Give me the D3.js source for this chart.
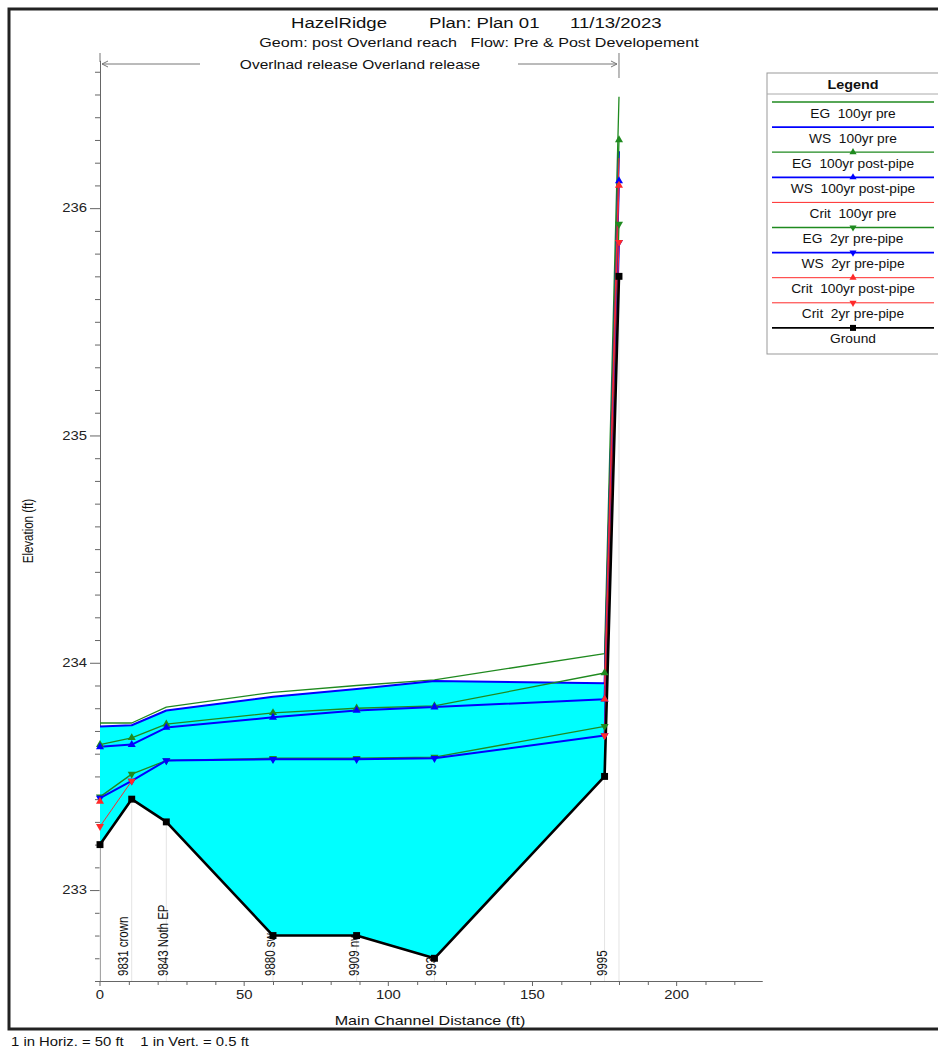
<!DOCTYPE html>
<html>
<head>
<meta charset="utf-8">
<script src="https://cdn.jsdelivr.net/npm/d3@7"></script>
<style>
  body { margin: 0; background: #fff; }
  svg { display: block; font-family: Arial, "Liberation Sans", sans-serif; }
</style>
</head>
<body>
<div id="chart"></div>
<script>
// main channel distance of each cross section (ft)
const stations = [0, 11, 23, 60, 89, 116, 175, 180];
const stationLabels = ['', '9831 crown', '9843 Noth EP', '9880 sw', '9909 nw', '9938 ne', '9995', ''];

// profiles (ft), null where not computed
const egPre100    = [233.735, 233.735, 233.805, 233.87, 233.90, 233.925, 234.04, 236.49];
const wsPre100    = [233.72, 233.725, 233.79, 233.85, 233.885, 233.92, 233.91, 236.25];
const egPost100   = [233.64, 233.67, 233.73, 233.78, 233.80, 233.81, 233.955, 236.30];
const wsPost100   = [233.63, 233.64, 233.715, 233.76, 233.79, 233.805, 233.84, 236.12];
const critPre100  = [null, null, null, null, null, null, 233.90, 236.22];
const egPre2      = [233.41, 233.51, 233.57, 233.58, 233.58, 233.585, 233.72, 235.93];
const wsPre2      = [233.405, 233.48, 233.57, 233.575, 233.575, 233.58, 233.68, 235.85];
const critPost100 = [233.39, null, null, null, null, null, 233.84, 236.10];
const critPre2    = [233.28, 233.48, null, null, null, null, 233.68, 235.85];
const ground      = [233.20, 233.40, 233.30, 232.80, 232.80, 232.70, 233.50, 235.70];

const xTicks = [0, 50, 100, 150, 200];
const yTicks = [233, 234, 235, 236];
const reach = [0, 180];

const green = '#1f8a1f', blue = '#0000ff', red = '#ff2a2a';

const series = [
    { name: 'EG  100yr pre',          values: egPre100,    color: green, width: 1.3, marker: null },
    { name: 'WS  100yr pre',          values: wsPre100,    color: blue,  width: 2,   marker: null },
    { name: 'EG  100yr post-pipe',    values: egPost100,   color: green, width: 1.3, marker: 'up' },
    { name: 'WS  100yr post-pipe',    values: wsPost100,   color: blue,  width: 2,   marker: 'up' },
    { name: 'Crit  100yr pre',        values: critPre100,  color: red,   width: 1,   marker: null },
    { name: 'EG  2yr pre-pipe',       values: egPre2,      color: green, width: 1.3, marker: 'down' },
    { name: 'WS  2yr pre-pipe',       values: wsPre2,      color: blue,  width: 2,   marker: 'down' },
    { name: 'Crit  100yr post-pipe',  values: critPost100, color: red,   width: 1,   marker: 'up' },
    { name: 'Crit  2yr pre-pipe',     values: critPre2,    color: red,   width: 1,   marker: 'down' },
    { name: 'Ground',                 values: ground,      color: '#000', width: 2.6, marker: 'square' }
];

const SX = 1.24; // the plot is wider than tall, text too

const svg = d3.select('#chart').append('svg')
    .attr('width', 938)
    .attr('height', 1049);

function stretchedText(parent, x, y, str, size, anchor, sx) {
    return parent.append('text')
        .attr('transform', `translate(${x},${y}) scale(${sx || SX},1)`)
        .attr('text-anchor', anchor || 'start')
        .style('font-size', size + 'px')
        .style('white-space', 'pre')
        .attr('fill', '#111')
        .text(str);
}

function symbolPath(kind, size) {
    if (kind === 'square') return d3.symbol(d3.symbolSquare, size || 48)();
    return d3.symbol(d3.symbolTriangle, size || 30)();
}

// frame
svg.append('rect')
    .attr('x', 9).attr('y', 9)
    .attr('width', 960).attr('height', 1020)
    .attr('fill', 'none')
    .attr('stroke', '#222')
    .attr('stroke-width', 3);

// scales
const x = d3.scaleLinear().domain([0, 229.6]).range([100, 762]);
const y = d3.scaleLinear().domain([232.6, 236.65]).range([981, 60.4]);

// titles
stretchedText(svg, 291, 28, 'HazelRidge', 15);
stretchedText(svg, 429, 28, 'Plan: Plan 01', 15);
stretchedText(svg, 570, 28, '11/13/2023', 15);
stretchedText(svg, 479, 47, 'Geom: post Overland reach   Flow: Pre & Post Developement', 13, 'middle');

// reach marker
const reachG = svg.append('g').attr('stroke', '#777').attr('fill', 'none');
const rx0 = x(reach[0]), rx1 = x(reach[1]);
reachG.append('line').attr('x1', rx0).attr('x2', rx0).attr('y1', 53).attr('y2', 62);
reachG.append('line').attr('x1', rx1).attr('x2', rx1).attr('y1', 53).attr('y2', 78);
reachG.append('line').attr('x1', rx0 + 2).attr('x2', 200).attr('y1', 64).attr('y2', 64);
reachG.append('line').attr('x1', 518).attr('x2', rx1 - 2).attr('y1', 64).attr('y2', 64);
reachG.append('path').attr('d', `M${rx0 + 8},61L${rx0 + 2},64L${rx0 + 8},67`);
reachG.append('path').attr('d', `M${rx1 - 8},61L${rx1 - 2},64L${rx1 - 8},67`);
stretchedText(svg, 360, 69, 'Overlnad release Overland release', 12.5, 'middle');

// axes
const yMinor = d3.range(0, 41).map(i => +(232.6 + i * 0.1).toFixed(1)).filter(v => !yTicks.includes(v));
const xMinor = d3.range(0, 230, 10).filter(v => !xTicks.includes(v));

svg.append('g')
    .attr('transform', `translate(${x(0)},0)`)
    .call(d3.axisLeft(y).tickValues(yMinor).tickSize(5).tickSizeOuter(0).tickFormat(''))
    .call(g => g.selectAll('line,path').attr('stroke', '#666'));

svg.append('g')
    .attr('class', 'axis axis--y')
    .attr('transform', `translate(${x(0)},0)`)
    .call(d3.axisLeft(y).tickValues(yTicks).tickSize(10).tickSizeOuter(0).tickPadding(3).tickFormat(d3.format('d')))
    .call(g => g.selectAll('line,path').attr('stroke', '#666'))
    .call(g => g.selectAll('text')
        .style('font-size', '12px').attr('fill', '#222')
        .attr('x', -13 / SX)
        .attr('transform', `scale(${SX},1)`));

svg.append('g')
    .attr('transform', `translate(0,${y(232.6)})`)
    .call(d3.axisBottom(x).tickValues(xMinor).tickSize(4).tickSizeOuter(0).tickFormat(''))
    .call(g => g.selectAll('line,path').attr('stroke', '#666'));

svg.append('g')
    .attr('class', 'axis axis--x')
    .attr('transform', `translate(0,${y(232.6)})`)
    .call(d3.axisBottom(x).tickValues(xTicks).tickSize(5).tickSizeOuter(0).tickPadding(4))
    .call(g => g.selectAll('line,path').attr('stroke', '#666'))
    .call(g => g.selectAll('text')
        .style('font-size', '12px').attr('fill', '#222'));
// stretch the bottom labels without moving their ticks
svg.select('.axis--x').selectAll('.tick').each(function (d) {
    const t = d3.select(this);
    t.attr('transform', null);
    t.select('line').attr('x1', x(d)).attr('x2', x(d));
    t.select('text').attr('transform', `translate(${x(d)},0) scale(${SX},1)`);
});

stretchedText(svg, 430, 1025, 'Main Channel Distance (ft)', 13, 'middle');
svg.append('text')
    .attr('transform', `translate(33,531) scale(${SX},1) rotate(-90)`)
    .attr('text-anchor', 'middle')
    .style('font-size', '11.5px')
    .attr('fill', '#111')
    .text('Elevation (ft)');
stretchedText(svg, 11, 1046, '1 in Horiz. = 50 ft    1 in Vert. = 0.5 ft', 12);

// station lines and labels sit under the water fill
const plot = svg.append('g');
plot.selectAll('.station-line')
    .data(stations)
    .enter().append('line')
    .attr('class', 'station-line')
    .attr('x1', d => x(d)).attr('x2', d => x(d))
    .attr('y1', y(232.6)).attr('y2', (d, i) => y(ground[i]))
    .attr('stroke', '#e4e4e4');

plot.selectAll('.station-label')
    .data(stations)
    .enter().append('text')
    .attr('class', 'station-label')
    .attr('transform', (d, i) => `translate(${x(d) + (i === 1 ? -4 : 2)},976) scale(${SX},1) rotate(-90)`)
    .style('font-size', '11.5px')
    .attr('fill', '#111')
    .text((d, i) => stationLabels[i]);

// water fill for the 100yr pre profile
const area = d3.area()
    .x((d, i) => x(stations[i]))
    .y0((d, i) => y(ground[i]))
    .y1(d => y(d));

plot.append('path')
    .datum(wsPre100)
    .attr('d', area)
    .attr('fill', '#00ffff');

// profile lines
const line = d3.line()
    .defined(d => d != null)
    .x((d, i) => x(stations[i]))
    .y(d => y(d));

series.forEach(s => {
    plot.append('path')
        .datum(s.values)
        .attr('d', line)
        .attr('fill', 'none')
        .attr('stroke', s.color)
        .attr('stroke-width', s.width)
        .attr('stroke-linejoin', 'round');
});

series.filter(s => s.marker).forEach(s => {
    plot.selectAll(null)
        .data(s.values.map((v, i) => ({ v, st: stations[i] })).filter(d => d.v != null))
        .enter().append('path')
        .attr('d', symbolPath(s.marker, s.marker === 'square' ? 48 : 28))
        .attr('transform', d => `translate(${x(d.st)},${y(d.v)})${s.marker === 'down' ? ' rotate(180)' : ''}`)
        .attr('fill', s.color);
});

// legend
const legend = svg.append('g');
legend.append('rect')
    .attr('x', 767).attr('y', 73)
    .attr('width', 190).attr('height', 281)
    .attr('fill', '#fff')
    .attr('stroke', '#999');
legend.append('line')
    .attr('x1', 767).attr('x2', 957).attr('y1', 94).attr('y2', 94)
    .attr('stroke', '#aaa');
stretchedText(legend, 853, 89, 'Legend', 12.5, 'middle', 1.15).style('font-weight', 'bold');

const item = legend.selectAll('.item')
    .data(series)
    .enter().append('g')
    .attr('class', 'item')
    .attr('transform', (d, i) => `translate(0,${102 + i * 25.1})`);

item.append('line')
    .attr('x1', 772).attr('x2', 934)
    .attr('stroke', d => d.color)
    .attr('stroke-width', d => Math.min(d.width, 1.8));

item.filter(d => d.marker).append('path')
    .attr('d', d => symbolPath(d.marker, d.marker === 'square' ? 36 : 22))
    .attr('transform', d => `translate(853,0)${d.marker === 'down' ? ' rotate(180)' : ''}`)
    .attr('fill', d => d.color);

item.each(function (d) {
    stretchedText(d3.select(this), 853, 15.5, d.name, 12.5, 'middle', 1.1);
});
</script>
</body>
</html>
